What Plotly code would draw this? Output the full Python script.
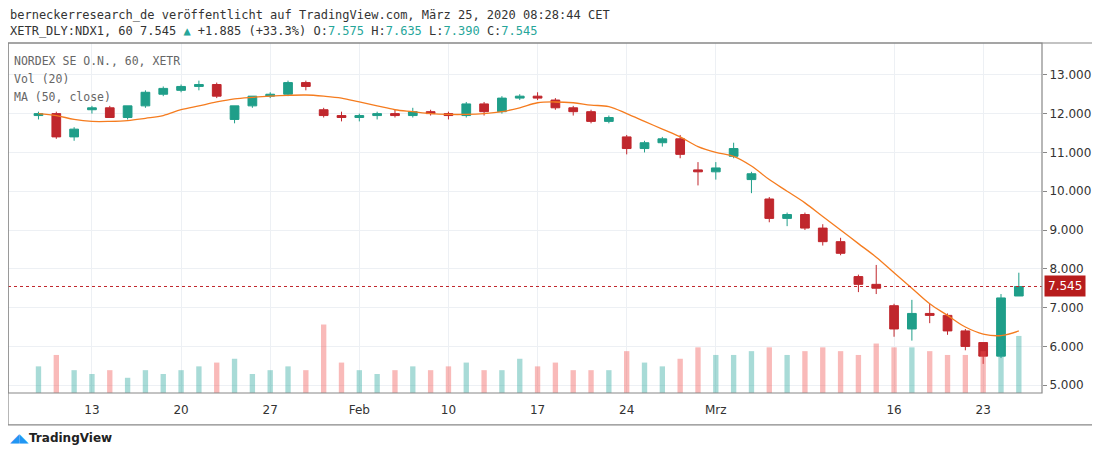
import plotly.graph_objects as go
import pandas as pd

days = [d.strftime("%Y-%m-%d") for d in pd.bdate_range("2020-01-08", "2020-03-25")]
#          Jan8-10            Jan13-17                      Jan20-24                      Jan27-31                      Feb3-7                        Feb10-14                      Feb17-21                      Feb24-28                      Mar2-6                        Mar9-13                  Mar16-20                 Mar23-25
opens  = [11.95,12.0,11.4,  12.1,12.15,11.9,12.2,12.5,   12.6,12.7,12.75,11.85,12.2,  12.45,12.5,12.8,12.1,11.95,  11.9,11.95,12.0,11.95,12.05,  12.0,11.95,12.25,12.05,12.4,  12.45,12.35,12.15,12.05,11.8, 11.4,11.1,11.25,11.35,10.55,  10.5,10.9,10.3,9.8,9.3,  9.4,9.05,8.7,7.8,7.6,  7.05,6.45,6.85,6.8,6.4,  6.1,5.75,7.3]
highs  = [12.05,12.05,11.65, 12.2,12.2,12.2,12.6,12.7,   12.75,12.85,12.8,12.2,12.45, 12.55,12.85,12.85,12.15,12.05, 12.0,12.05,12.1,12.15,12.1, 12.05,12.3,12.3,12.45,12.5,  12.55,12.4,12.2,12.1,11.95,  11.45,11.3,11.4,11.45,10.75,  10.75,11.25,10.5,9.85,9.45, 9.45,9.15,8.8,7.85,8.1, 7.1,7.2,7.1,6.85,6.45, 6.1,7.35,7.9]
lows   = [11.85,11.35,11.3, 12.0,11.9,11.85,12.15,12.45, 12.55,12.6,12.4,11.75,12.15, 12.4,12.45,12.6,11.9,11.8,   11.8,11.85,11.9,11.9,11.95,  11.85,11.9,11.95,12.0,12.35,  12.35,12.1,11.95,11.75,11.75, 10.95,11.0,11.15,10.85,10.15, 10.3,10.85,9.95,9.2,9.1, 9.0,8.6,8.35,7.4,7.35, 6.25,6.15,6.6,6.3,5.9, 5.55,5.7,7.3]
closes = [12.0,11.4,11.6,   12.15,11.9,12.2,12.55,12.65, 12.7,12.75,12.45,12.2,12.45, 12.5,12.8,12.7,11.95,11.9,   11.95,12.0,11.95,12.05,12.0, 11.95,12.25,12.05,12.4,12.45, 12.4,12.15,12.05,11.8,11.9,  11.1,11.25,11.35,10.95,10.5,  10.6,11.1,10.45,9.3,9.4,  9.05,8.7,8.4,7.6,7.5,   6.45,6.85,6.8,6.4,6.0,  5.75,7.25,7.545]
ma50   = [12.0,11.95,11.85, 11.8,11.8,11.82,11.88,11.95, 12.1,12.2,12.3,12.38,12.42, 12.45,12.47,12.48,12.45,12.4, 12.3,12.2,12.1,12.05,12.0,  11.98,11.98,12.0,12.05,12.15, 12.28,12.3,12.28,12.22,12.18, 12.0,11.8,11.6,11.4,11.15,   11.0,10.9,10.65,10.3,10.0, 9.7,9.35,9.0,8.65,8.3, 7.9,7.5,7.1,6.8,6.5, 6.32,6.28,6.4]
volume = [0.35,0.5,0.3,     0.25,0.3,0.2,0.3,0.25,       0.3,0.35,0.4,0.45,0.25,      0.3,0.35,0.3,0.9,0.4,        0.3,0.25,0.3,0.35,0.3,       0.35,0.4,0.3,0.3,0.45,       0.35,0.4,0.3,0.3,0.3,        0.55,0.4,0.35,0.45,0.6,      0.5,0.5,0.55,0.6,0.5,      0.55,0.6,0.55,0.5,0.65, 0.6,0.6,0.55,0.5,0.5,   0.55,0.7,0.75]
tick_dates  = ["2020-01-13","2020-01-20","2020-01-27","2020-02-03","2020-02-10","2020-02-17","2020-02-24","2020-03-02","2020-03-16","2020-03-23"]
tick_labels = ["13","20","27","Feb","10","17","24","Mrz","16","23"]
price_ticks = [5,6,7,8,9,10,11,12,13]
last_price = 7.545

idx = list(range(len(days)))
pos = {d: i for i, d in enumerate(days)}
tickvals = [pos[d] for d in tick_dates]

UP, DN = "#1f9e89", "#c0272d"
vcol = ["rgba(38,166,154,0.4)" if c >= o else "rgba(239,83,80,0.4)" for o, c in zip(opens, closes)]

fig = go.Figure()
fig.add_trace(go.Bar(x=idx, y=volume, marker_color=vcol, marker_line_width=0, width=0.3,
                     yaxis="y2", hoverinfo="skip"))
fig.add_trace(go.Candlestick(x=idx, open=opens, high=highs, low=lows, close=closes,
                             increasing=dict(line=dict(color=UP, width=1), fillcolor=UP),
                             decreasing=dict(line=dict(color=DN, width=1), fillcolor=DN),
                             whiskerwidth=0))
fig.add_trace(go.Scatter(x=idx, y=ma50, mode="lines", line=dict(color="#f57c1f", width=1.3), line_shape="spline"))

fig.add_hline(y=last_price, line=dict(color="#c0272d", width=1, dash="dot"))
fig.add_annotation(x=1, xref="paper", y=last_price, yref="y", xanchor="left", xshift=2,
                   text="7.545", showarrow=False, bgcolor="#b71c1c", font=dict(color="white", size=12, family="DejaVu Sans"),
                   borderpad=3)

mono = "DejaVu Sans Mono"
fig.add_annotation(xref="paper", yref="paper", x=0, y=1.08, xanchor="left", yanchor="middle", showarrow=False,
                   text="berneckerresearch_de veröffentlicht auf TradingView.com, März 25, 2020 08:28:44 CET",
                   font=dict(family=mono, size=12, color="#333"))
teal = "#26a69a"
fig.add_annotation(xref="paper", yref="paper", x=0, y=1.034, xanchor="left", yanchor="middle", showarrow=False,
                   text=("XETR_DLY:NDX1, 60 7.545 <span style='color:%s'>▲</span> +1.885 (+33.3%%) "
                         "O:<span style='color:%s'>7.575</span> H:<span style='color:%s'>7.635</span> "
                         "L:<span style='color:%s'>7.390</span> C:<span style='color:%s'>7.545</span>") % ((teal,)*5),
                   font=dict(family=mono, size=12, color="#333"))
for i, t in enumerate(["NORDEX SE O.N., 60, XETR", "Vol (20)", "MA (50, close)"]):
    fig.add_annotation(xref="paper", yref="paper", x=0.004, y=0.95 - i*0.052, xanchor="left", yanchor="middle",
                       showarrow=False, text=t, font=dict(family=mono, size=11.5, color="#666"))
fig.add_annotation(xref="paper", yref="paper", x=0.018, y=-0.13, xanchor="left", yanchor="middle", showarrow=False,
                   text="<b>TradingView</b>", font=dict(family="DejaVu Sans", size=12, color="#222"))
fig.add_annotation(xref="paper", yref="paper", x=0.0, y=-0.13, xanchor="left", yanchor="middle", showarrow=False,
                   text="◢◣", font=dict(family="DejaVu Sans", size=12, color="#2196f3"))

fig.add_shape(type="rect", xref="paper", yref="paper", x0=0, x1=1.0, y0=0, y1=1, line=dict(color="#888", width=1.2))
fig.add_shape(type="rect", xref="paper", yref="paper", x0=0, x1=1.051, y0=-0.091, y1=1, line=dict(color="#888", width=1.2))

fig.update_layout(
    width=1100, height=457, margin=dict(l=0, r=66, t=35, b=72, autoexpand=False),
    paper_bgcolor="white", plot_bgcolor="white", showlegend=False,
    xaxis=dict(range=[-1.71, 56.3], tickvals=tickvals, ticktext=tick_labels, showgrid=True, automargin=False,
               gridcolor="#edf0f4", zeroline=False, rangeslider=dict(visible=False), ticks="",
               tickfont=dict(family="DejaVu Sans", size=12, color="#333"), ticklabelstandoff=8),
    yaxis=dict(side="right", range=[4.8, 13.82], tickvals=price_ticks, tickformat=".3f", automargin=False,
               showgrid=True, gridcolor="#edf0f4", zeroline=False, ticks="outside", ticklen=4, tickcolor="#888",
               tickfont=dict(family="DejaVu Sans", size=12, color="#333")),
    yaxis2=dict(overlaying="y", range=[0, 4.6], visible=False),
)
fig.write_html("out.html")
